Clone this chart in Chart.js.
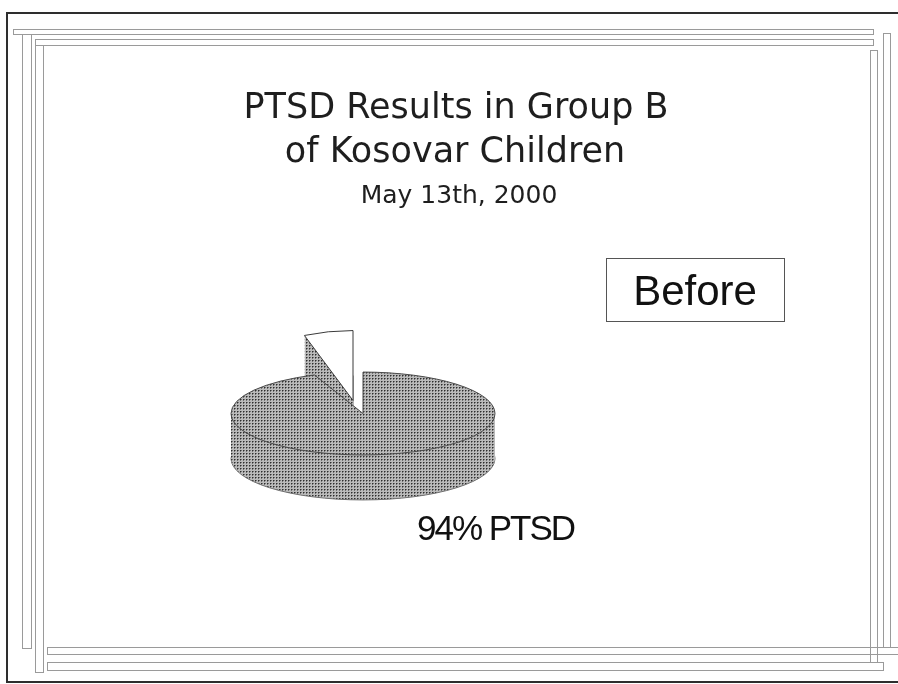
<!DOCTYPE html>
<html lang="en">
<head>
<meta charset="UTF-8" />
<script src="https://cdn.jsdelivr.net/npm/chart.js@4.4.0/dist/chart.umd.min.js"></script>
<style>
  html, body { margin: 0; padding: 0; background: #fff; }
  canvas { display: block; }
</style>
</head>
<body>
<canvas id="myChart" width="898" height="684"></canvas>
<script>
const labels = ['PTSD', 'No PTSD'];
const values = [94, 6];
const titleLines = ['PTSD Results in Group B', 'of Kosovar Children'];
const subtitle = 'May 13th, 2000';
const stage = 'Before';

const canvas = document.getElementById('myChart');
const ctx = canvas.getContext('2d');

// halftone dots like the scanned slide
function makeStipple() {
  const c = document.createElement('canvas');
  c.width = 3; c.height = 3;
  const g = c.getContext('2d');
  g.fillStyle = '#bababa';
  g.fillRect(0, 0, 3, 3);
  g.fillStyle = '#727272';
  g.fillRect(1, 0, 1, 1);
  g.fillRect(0, 1, 1, 1);
  g.fillStyle = '#2e2e2e';
  g.fillRect(0, 0, 1, 1);
  return ctx.createPattern(c, 'repeat');
}
const stipple = makeStipple();

const TILT = 0.314;
const DEPTH = 45;

function wedge(c, arc, ox, oy, tilt) {
  const p = arc.getProps(['x', 'y', 'startAngle', 'endAngle', 'outerRadius']);
  c.beginPath();
  c.moveTo(p.x + ox, p.y + oy);
  c.ellipse(p.x + ox, p.y + oy, p.outerRadius, p.outerRadius * tilt, 0, p.startAngle, p.endAngle);
  c.closePath();
}

function drawSlice(c, arc, dx, dy, tilt) {
  const o = arc.options;
  c.save();
  c.lineJoin = 'round';
  // walls: stack the wedge downwards
  for (let d = DEPTH; d >= 1; d--) {
    wedge(c, arc, dx, dy + d, tilt);
    c.fillStyle = stipple;
    c.fill();
    if (d === DEPTH) {
      c.strokeStyle = '#6e6e6e';
      c.lineWidth = 1;
      c.stroke();
    }
  }
  // top face
  wedge(c, arc, dx, dy, tilt);
  c.fillStyle = o.backgroundColor;
  c.fill();
  c.strokeStyle = o.borderColor;
  c.lineWidth = o.borderWidth;
  c.stroke();
  c.restore();
}

const pie3d = {
  id: 'pie3d',
  beforeDatasetsDraw(chart, args, opts) {
    const meta = chart.getDatasetMeta(0);
    const lifted = opts.liftIndex;
    // the lifted slice sits at the back, so paint it first
    const order = meta.data.map((a, i) => i).sort((a, b) => (b === lifted) - (a === lifted));
    order.forEach(i => {
      const arc = meta.data[i];
      if (i === lifted) drawSlice(chart.ctx, arc, opts.liftX, opts.liftY, opts.liftTilt);
      else drawSlice(chart.ctx, arc, 0, 0, TILT);
    });
    return false;
  }
};

const slide = {
  id: 'slide',
  beforeDraw(chart) {
    const c = chart.ctx;
    c.save();
    // outer border
    c.strokeStyle = '#2e2e2e';
    c.lineWidth = 2;
    c.beginPath();
    c.moveTo(900, 13);
    c.lineTo(7, 13);
    c.lineTo(7, 682);
    c.lineTo(900, 682);
    c.stroke();
    // double bar frame
    c.strokeStyle = '#9a9a9a';
    c.lineWidth = 1;
    const bars = [
      [13.5, 29.5, 860, 5],
      [35.5, 39.5, 838, 6],
      [22.5, 34.5, 9, 614],
      [35.5, 45.5, 8, 627],
      [870.5, 50.5, 7, 612],
      [883.5, 33.5, 7, 614],
      [47.5, 647.5, 860, 7],
      [47.5, 662.5, 836, 8]
    ];
    bars.forEach(b => c.strokeRect(b[0], b[1], b[2], b[3]));
    c.restore();
  },
  afterDraw(chart) {
    const c = chart.ctx;
    c.save();
    c.fillStyle = '#1e1e1e';
    c.textAlign = 'center';
    c.textBaseline = 'alphabetic';
    c.font = '35px "DejaVu Sans"';
    c.fillText(titleLines[0], 456, 118);
    c.fillText(titleLines[1], 455, 162);
    c.font = '25px "DejaVu Sans"';
    c.fillText(subtitle, 459, 203);

    // stage box
    c.strokeStyle = '#555';
    c.lineWidth = 1;
    c.strokeRect(606.5, 258.5, 178, 63);
    c.font = '42px "Liberation Sans"';
    c.fillStyle = '#111';
    c.fillText(stage, 695, 305);

    // slice label
    c.textAlign = 'left';
    c.font = '35px "Liberation Sans"';
    c.letterSpacing = '-2px';
    c.fillText(values[0] + '% ' + labels[0], 417, 540);
    c.restore();
  }
};

new Chart(ctx, {
  type: 'pie',
  data: {
    labels: labels,
    datasets: [{
      data: values,
      backgroundColor: [stipple, '#ffffff'],
      borderColor: ['#4a4a4a', '#3a3a3a'],
      borderWidth: 1
    }]
  },
  options: {
    responsive: false,
    animation: false,
    radius: 132,
    rotation: 0,
    layout: { padding: { left: 100, right: 272, top: 200, bottom: 57 } },
    plugins: {
      legend: { display: false },
      tooltip: { enabled: false },
      pie3d: { liftIndex: 1, liftX: -10, liftY: -13, liftTilt: 0.53 }
    }
  },
  plugins: [slide, pie3d]
});
</script>
</body>
</html>
